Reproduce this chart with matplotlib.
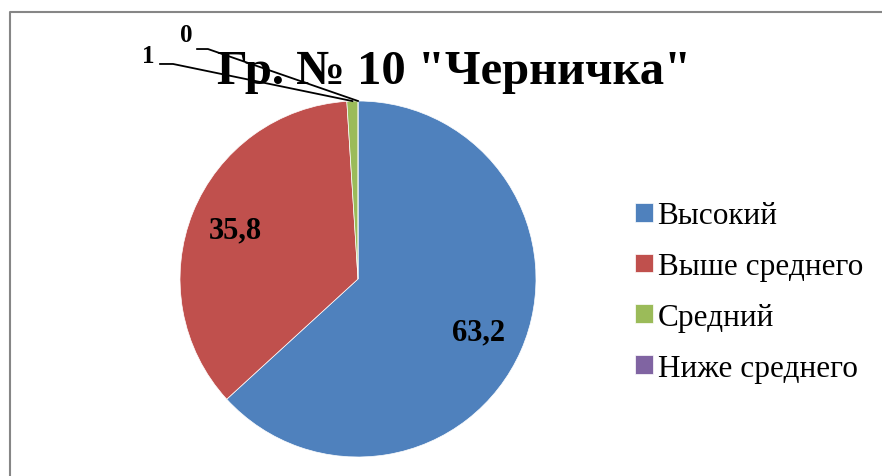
import numpy as np
import matplotlib as mpl

mpl.use("Agg")
import matplotlib.pyplot as plt
from matplotlib.lines import Line2D

plt.rcParams["font.family"] = ["Liberation Serif", "DejaVu Serif"]

title = 'Гр. № 10 "Черничка"'
categories = ["Высокий", "Выше среднего", "Средний", "Ниже среднего"]
values = [63.2, 35.8, 1, 0]
value_labels = ["63,2", "35,8", "1", "0"]
colors = ["#4F81BD", "#C0504D", "#9BBB59", "#8064A2"]

W, H = 882, 477
fig = plt.figure(figsize=(W / 100, H / 100), dpi=100)

# chart area border (only left and top edges visible in the crop)
fig.add_artist(Line2D([9.5 / W, 9.5 / W, 1], [0, 1 - 13 / H, 1 - 13 / H],
                      transform=fig.transFigure, color="#868686", lw=1.5))

# pie axes: centre at (358, 280) px, radius 178 px
cx, cy, r = 358, 477 - 280, 178
ax = fig.add_axes([(cx - r) / W, (cy - r) / H, 2 * r / W, 2 * r / H])
wedges, _ = ax.pie(values, colors=colors, startangle=90, counterclock=False,
                   radius=1, wedgeprops=dict(edgecolor="white", linewidth=0.5))
ax.set_xlim(-1, 1)
ax.set_ylim(-1, 1)
ax.set_aspect("equal")
ax.axis("off")

# small slices: label right edge x, label y, leader y, leader start x, elbow x
outside = {2: (-1.146, 1.258, 1.208, -1.112, -1.039),
           3: (-0.927, 1.376, 1.292, -0.904, -0.843)}
for i, w in enumerate(wedges):
    mid = np.deg2rad((w.theta1 + w.theta2) / 2)
    if i in outside:
        tx, ty, ly, sx, ex = outside[i]
        ax.plot([sx, ex, np.cos(mid)], [ly, ly, np.sin(mid)], color="black",
                lw=1.3, clip_on=False)
        ax.text(tx, ty, value_labels[i], ha="right", va="center", fontsize=18,
                fontweight="bold", clip_on=False)
    else:
        ax.text(0.74 * np.cos(mid), 0.74 * np.sin(mid), value_labels[i],
                ha="center", va="center", fontsize=22, fontweight="bold")

fig.text(454 / W, 1 - 72 / H, title, ha="center", va="center",
         fontsize=35, fontweight="bold")

fig.legend(wedges, categories, loc="center left",
           bbox_to_anchor=(607 / W, 1 - 293 / H), frameon=False, fontsize=22.5,
           handlelength=0.57, handleheight=0.55, handletextpad=0.15,
           labelspacing=0.7)

fig.savefig("out.png", dpi=100)
